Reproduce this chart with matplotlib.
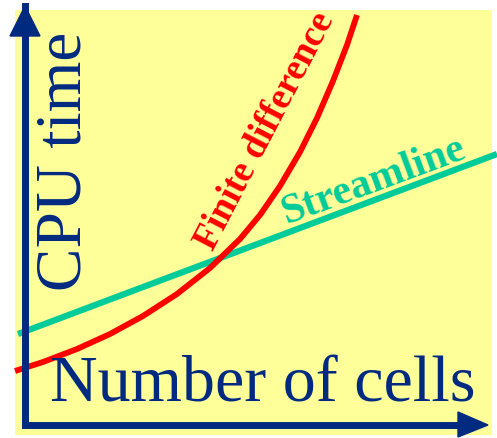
#------------------------------------------------------------------
# Sketch: CPU time vs number of cells, finite difference vs streamline
#
import matplotlib
matplotlib.use( 'Agg' )
from matplotlib import pyplot as plt
from matplotlib import font_manager
from matplotlib.font_manager import FontProperties
from matplotlib.patches import Rectangle, Polygon
import numpy as np

#------------------------------------------------------------------
# Data (arbitrary units, origin at the axes corner).
#
fd_cells = [ -10, 18, 52, 85, 118, 152, 185, 215, 235, 255, 275, 292, 308, 322, 332 ]
fd_time  = [ 54, 63, 76, 91, 109, 131, 157, 186, 210, 239, 273, 307, 344, 380, 410 ]

sl_cells = [ -7, 472 ]
sl_time  = [ 91, 271 ]

x_label = 'Number of cells'
y_label = 'CPU time'
fd_label = 'Finite difference'
sl_label = 'Streamline'

#------------------------------------------------------------------
# Colours.
#
yellow = '#FFFF99'
navy   = '#002A80'
red    = '#FF0000'
teal   = '#00CC99'

#------------------------------------------------------------------
# Look for the serif font files directly and register them.
#
files = font_manager.findSystemFonts()
def find_file( keys ):
    for k in keys:
        for f in files:
            if k.lower() in f.lower().replace( '-', '' ).replace( '_', '' ):
                return f
    return None

reg_file  = find_file( [ 'LiberationSerifRegular', 'DejaVuSerif.ttf' ] )
bold_file = find_file( [ 'LiberationSerifBold.', 'DejaVuSerifBold.' ] )
for f in ( reg_file, bold_file ):
    if f:
        font_manager.fontManager.addfont( f )
fp_reg  = FontProperties( fname = reg_file ) if reg_file else FontProperties( family = 'serif' )
fp_bold = FontProperties( fname = bold_file ) if bold_file else FontProperties( family = 'serif', weight = 'bold' )

fig = plt.figure( figsize = ( 4.97, 4.39 ), dpi = 100 )
ax = fig.add_axes( [ 0, 0, 1, 1 ] )
ax.set_xlim( -25, 472 )
ax.set_ylim( -13, 426 )
ax.axis( 'off' )

# Background panel.
ax.add_patch( Rectangle( ( -10, -10 ), 477, 425, facecolor = yellow,
                         edgecolor = 'none', zorder = 0 ) )

# Curves.
ax.plot( sl_cells, sl_time, color = teal, linewidth = 4.5,
         solid_capstyle = 'butt', zorder = 2, clip_on = False )
ax.plot( fd_cells, fd_time, color = red, linewidth = 4.2,
         solid_capstyle = 'butt', solid_joinstyle = 'round', zorder = 3 )

# Axis arrows.
ax.plot( [ 0, 0, 433 ], [ 419, 0, 0 ], color = navy, linewidth = 5.0,
         solid_joinstyle = 'miter', solid_capstyle = 'projecting', zorder = 4 )
ax.add_patch( Polygon( [ ( -15, 389 ), ( 15, 389 ), ( 0, 419 ) ],
                       closed = True, color = navy, zorder = 4 ) )
ax.add_patch( Polygon( [ ( 433, 13 ), ( 433, -12 ), ( 463, 0 ) ],
                       closed = True, color = navy, zorder = 4 ) )

# Labels.
ax.text( 40, 265, y_label, rotation = 90, color = navy, fontproperties = fp_reg,
         fontsize = 47, ha = 'center', va = 'center', rotation_mode = 'anchor' )
ax.text( 238, 24, x_label, color = navy, fontproperties = fp_reg, fontsize = 47.5,
         ha = 'center', va = 'baseline' )
ax.text( 240, 295, fd_label, rotation = 62.5, color = red, fontproperties = fp_bold,
         fontsize = 27, ha = 'center', va = 'center', rotation_mode = 'anchor' )
ax.text( 349, 245, sl_label, rotation = 20.3, color = teal, fontproperties = fp_bold,
         fontsize = 30, ha = 'center', va = 'center', rotation_mode = 'anchor' )

fig.savefig( 'out.png', dpi = 100, facecolor = 'white' )
